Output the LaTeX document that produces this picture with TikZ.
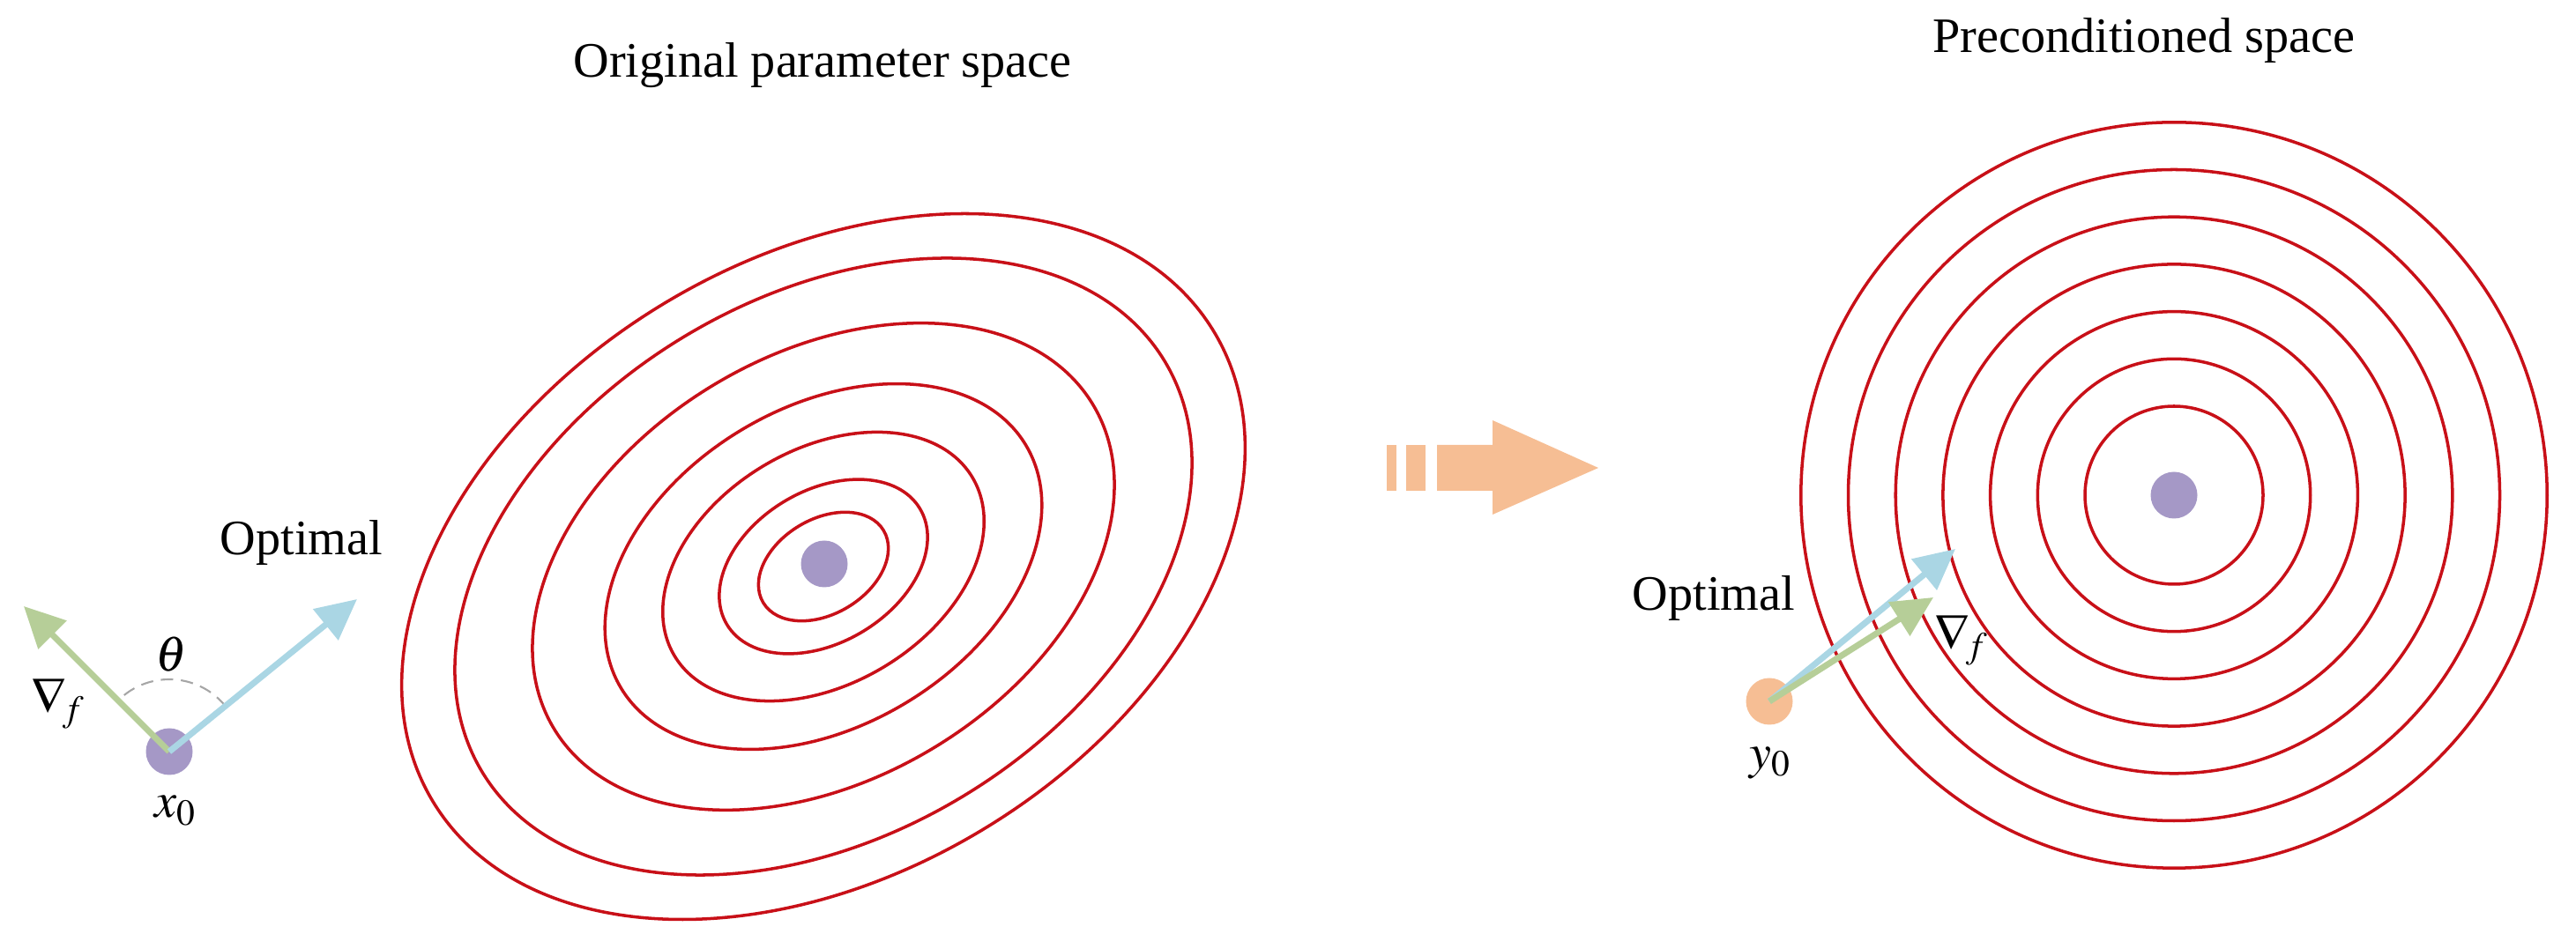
\documentclass[tikz,border=0pt]{standalone}
\usepackage{mathptmx}
\usepackage{fontspec}
\setmainfont{Liberation Serif}
\usetikzlibrary{arrows.meta}
\definecolor{ringred}{RGB}{200,16,24}
\definecolor{dotpurple}{RGB}{165,152,198}
\definecolor{peach}{RGB}{246,190,148}
\definecolor{gradgreen}{RGB}{182,206,152}
\definecolor{optblue}{RGB}{170,214,228}

\begin{document}
\begin{tikzpicture}[
  ring/.style={draw=ringred, line width=1pt},
  blob/.style={circle, fill=#1, inner sep=0pt, minimum size=5.3mm},
  vec/.style={draw=#1, line width=2pt, -{Triangle[length=4.6mm, width=4.4mm]}},
  lbl/.style={font=\fontsize{16}{19}\selectfont, inner sep=0pt}
  ]
  \useasboundingbox (0,0) rectangle (29.22,10.6);
  \coordinate (lctr) at (9.34,4.17);
  \coordinate (rctr) at (24.66,4.98);
  \foreach \s in {1,.874,.69,.518,.381,.247,.154}
    \draw[ring, rotate around={31:(lctr)}] (lctr) ellipse ({5.17*\s} and {3.49*\s});
  \foreach \k in {0,...,6}
    \draw[ring] (rctr) circle ({1.01+0.537*\k});

  \node[blob=dotpurple] (min1) at (9.35,4.20) {};
  \node[blob=dotpurple] (min2) at (rctr) {};
  \node[blob=dotpurple] (x0) at (1.92,2.07) {};
  \node[blob=peach] (y0) at (20.07,2.64) {};

  \coordinate (gtip1) at (0.27,3.72);
  \coordinate (otip1) at (4.05,3.80);
  \coordinate (otip2) at (22.18,4.37);
  \coordinate (gtip2) at (21.93,3.82);
  \draw[gray!70, line width=0.6pt, dash pattern=on 4pt off 2.5pt]
    ([shift={(39:0.82)}]x0.center) arc (39:135:0.82);
  \draw[vec=gradgreen] (x0.center) -- (gtip1);
  \draw[vec=optblue] (x0.center) -- (otip1);
  \draw[vec=optblue] (y0.center) -- (otip2);
  \draw[vec=gradgreen] (y0.center) -- (gtip2);

  \foreach \a/\b in {15.73/15.84,15.95/16.17}
    \fill[peach] (\a,5.03) rectangle (\b,5.55);
  \fill[peach] (16.30,5.03) -- (16.93,5.03) -- (16.93,4.76) -- (18.13,5.29)
    -- (16.93,5.83) -- (16.93,5.55) -- (16.30,5.55) -- cycle;

  \node[lbl, anchor=base] (ttl1) at (9.33,9.72) {Original parameter space};
  \node[lbl, anchor=base] (ttl2) at (24.32,10.00) {Preconditioned space};
  \node[lbl, anchor=base] (opt1) at (3.42,4.30) {Optimal};
  \node[lbl, anchor=base] (opt2) at (19.44,3.67) {Optimal};
  \node[lbl] (th) at (1.94,3.17) {$\theta$};
  \node[lbl] (g1) at (0.66,2.62) {$\nabla_{\!f}$};
  \node[lbl] (g2) at (22.25,3.34) {$\nabla_{\!f}$};
  \node[lbl] (lx) at (1.99,1.40) {$x_0$};
  \node[lbl] (ly) at (20.08,1.94) {$y_0$};
\end{tikzpicture}
\end{document}
